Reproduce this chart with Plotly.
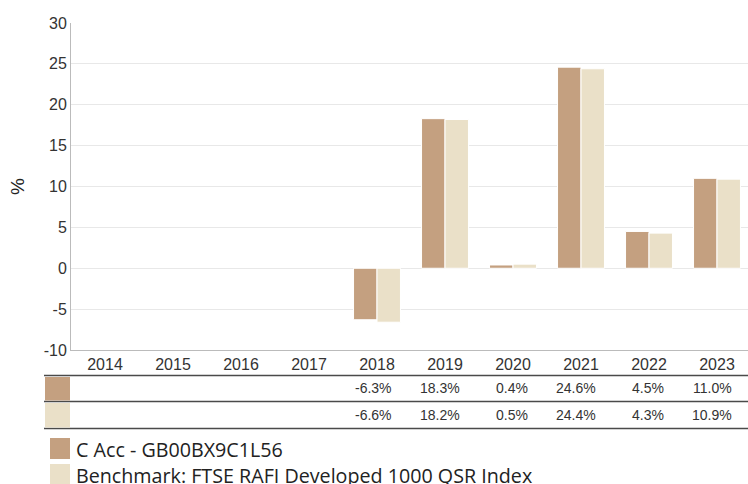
import plotly.graph_objects as go

years = ["2014", "2015", "2016", "2017", "2018", "2019", "2020", "2021", "2022", "2023"]
fund_name = "C Acc - GB00BX9C1L56"
bench_name = "Benchmark: FTSE RAFI Developed 1000 QSR Index"
fund_values = [None, None, None, None, -6.3, 18.3, 0.4, 24.6, 4.5, 11.0]
bench_values = [None, None, None, None, -6.6, 18.2, 0.5, 24.4, 4.3, 10.9]
y_ticks = [-10, -5, 0, 5, 10, 15, 20, 25, 30]
y_tick_text = ["-10", "-5", "0", "5", "10", "15", "20", "25", "30"]

FUND_COLOR = "#C4A080"
BENCH_COLOR = "#EAE0C8"

W, H = 748, 484
ML, MR, MT, MB = 71, 0, 23, 134
PH = H - MT - MB
CAT_PX = 68.0  # pixel width of one year slot in the reference

def py(pix):
    return (H - MB - pix) / PH

def px(pix):
    return (pix - ML) / (W - ML - MR)

fig = go.Figure()
fig.add_trace(go.Bar(x=years, y=fund_values, name=fund_name, marker=dict(color=FUND_COLOR, line=dict(color="white", width=1))))
fig.add_trace(go.Bar(x=years, y=bench_values, name=bench_name, marker=dict(color=BENCH_COLOR, line=dict(color="white", width=1))))

shapes = []
annotations = []
# table lines
for yl in [375.5, 401.5, 428.5]:
    shapes.append(dict(type="line", xref="paper", yref="paper", x0=px(44), x1=1, y0=py(yl), y1=py(yl),
                       line=dict(color="#4a4a4a", width=1.5)))
# table swatches
for (top, bot, col) in [(377, 400.5, FUND_COLOR), (403, 427.5, BENCH_COLOR)]:
    shapes.append(dict(type="rect", xref="paper", yref="paper", x0=px(45), x1=px(70), y0=py(bot), y1=py(top),
                       fillcolor=col, line=dict(width=0), layer="above"))
# table values (x given as category index on the category axis)
for vals, yc in [(fund_values, 388), (bench_values, 415)]:
    for i, v in enumerate(vals):
        if v is None:
            continue
        annotations.append(dict(x=i, xref="x", y=py(yc), yref="paper", text=f"{v:.1f}%", showarrow=False,
                                xanchor="right", xshift=17, yanchor="middle",
                                font=dict(family="Liberation Sans, Arial", size=14, color="#333333")))
# legend
for (top, name, col) in [(438, fund_name, FUND_COLOR), (464, bench_name, BENCH_COLOR)]:
    shapes.append(dict(type="rect", xref="paper", yref="paper", x0=px(50), x1=px(70), y0=py(top + 21), y1=py(top),
                       fillcolor=col, line=dict(width=0)))
    annotations.append(dict(x=px(74), xref="paper", y=py(top + 11), yref="paper", text=name, showarrow=False,
                            xanchor="left", yanchor="middle",
                            font=dict(family="Open Sans, Noto Sans", size=19.7, color="#222222")))

fig.update_layout(
    width=W, height=H,
    margin=dict(l=ML, r=MR, t=MT, b=MB, autoexpand=False),
    paper_bgcolor="white", plot_bgcolor="white",
    barmode="group", bargap=0.31, bargroupgap=0,
    showlegend=False,
    shapes=shapes, annotations=annotations,
    font=dict(family="Liberation Sans, Arial", size=16, color="#333333"),
)
fig.update_xaxes(type="category", categoryorder="array", categoryarray=years,
                 range=[-0.5, -0.5 + (W - ML - MR) / CAT_PX],
                 showline=True, linecolor="#bbbbbb", linewidth=1, showgrid=False, automargin=False,
                 tickfont=dict(size=16, color="#333333"), ticks="")
fig.update_yaxes(range=[-10, 30], tickvals=y_ticks, ticktext=y_tick_text, showline=True, linecolor="#bbbbbb", linewidth=1,
                 showgrid=True, gridcolor="#e8e8e8", zeroline=False, automargin=False,
                 title=dict(text="%", font=dict(size=19, color="#222222"), standoff=14),
                 tickfont=dict(size=16, color="#333333"), ticks="")

fig.write_html("out.html", config={"displayModeBar": False},
               post_script="document.body.style.margin='0px';")
